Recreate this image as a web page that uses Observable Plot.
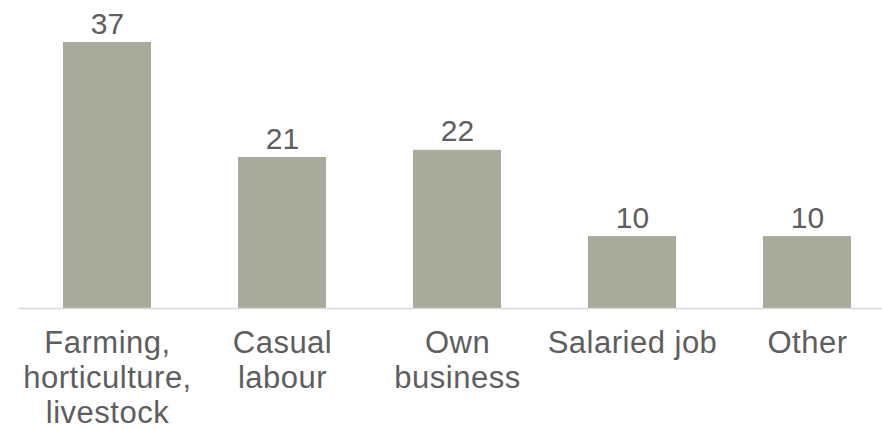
<!DOCTYPE html>
<html>
<head>
<meta charset="utf-8">
<script src="https://cdn.jsdelivr.net/npm/d3@7"></script>
<script src="https://cdn.jsdelivr.net/npm/@observablehq/plot@0.6"></script>
<style>
  html, body { margin: 0; padding: 0; background: #fff; overflow: hidden; }
  #chart svg { display: block; }
  #chart svg g[aria-label="x-axis tick label"] text { letter-spacing: 0.5px; }
</style>
</head>
<body>
<div id="chart"></div>
<script>
// Main source of livelihood (share, %)
const categories = ["Farming,\nhorticulture,\nlivestock", "Casual\nlabour", "Own\nbusiness", "Salaried job", "Other"];
const values = [37, 21, 22, 10, 10];

const data = categories.map((c, i) => ({category: c, value: values[i]}));

const barColor = "#a9aa99";
const textColor = "#5e5e5e";
const font = "Liberation Sans, Arial, sans-serif";

const chart = Plot.plot({
  width: 882,
  height: 430,
  marginTop: 42,
  marginBottom: 122,
  marginLeft: 18,
  marginRight: 0,
  style: {fontFamily: font, color: textColor, background: "#fff"},
  x: {domain: categories, range: [19.5, 894.5], paddingInner: 0.5, paddingOuter: 0.25},
  y: {domain: [0, 37], axis: null},
  marks: [
    Plot.barY(data, {x: "category", y: "value", fill: barColor}),
    Plot.ruleY([0], {stroke: "#d9d9d9", strokeWidth: 1.5}),
    Plot.text(data, {
      x: "category", y: "value", text: d => String(d.value),
      lineAnchor: "bottom", dy: -9, fontSize: 30, fill: textColor
    }),
    Plot.axisX({
      tickSize: 0, tickPadding: 20, fontSize: 31, lineHeight: 1.13,
      label: null, fill: textColor
    })
  ]
});

document.getElementById("chart").appendChild(chart);
</script>
</body>
</html>
